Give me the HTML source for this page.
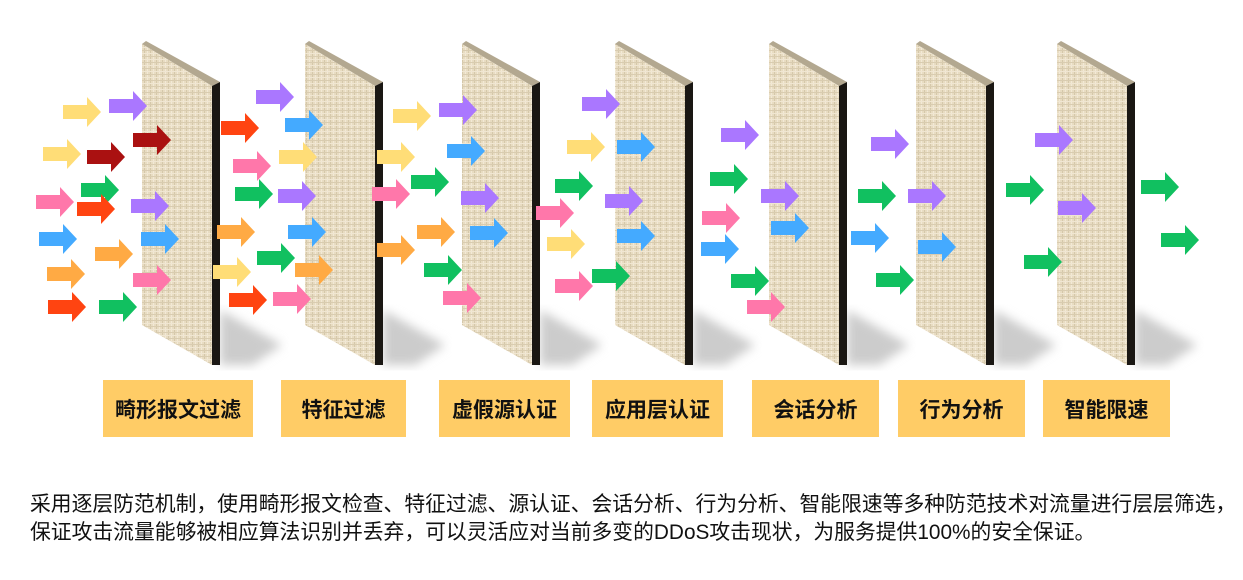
<!DOCTYPE html>
<html><head><meta charset="utf-8"><style>
html,body{margin:0;padding:0;background:#fff;}
body{width:1243px;height:580px;position:relative;overflow:hidden;font-family:"Liberation Sans","Noto Sans CJK SC",sans-serif;}
svg{position:absolute;left:0;top:0;}
.b{position:absolute;top:380px;height:57px;background:#ffcc66;font-weight:bold;font-size:21px;color:#111;display:flex;align-items:center;justify-content:center;}
.t{position:absolute;left:30px;font-size:20.8px;color:#111;white-space:nowrap;}
</style></head><body>
<svg width="1243" height="380" viewBox="0 0 1243 380">
<defs>
<pattern id="tx" width="6" height="6" patternUnits="userSpaceOnUse">
<rect width="6" height="6" fill="#e8dcc2"/>
<rect x="0" y="0" width="1" height="6" fill="#d5c8aa"/>
<rect x="3" y="0" width="1" height="6" fill="#f2e9d6"/>
<rect x="0" y="2" width="6" height="1" fill="#d9ccb0"/>
<rect x="0" y="5" width="6" height="1" fill="#f0e6d2"/>
</pattern>
<filter id="bl"><feGaussianBlur stdDeviation="5"/></filter>
<polygon id="a" points="-19,-7 5,-7 5,-15 19,0 5,15 5,7 -19,7"/>
</defs>
<g id="walls"></g>
<g id="arrows"></g>
</svg>
<script>
var W=[142,305,462,615,769,916,1057],s='';
W.forEach(function(X){
s+='<polygon points="'+(X+78)+',310 '+(X+140)+',345 '+(X+110)+',365 '+(X+78)+',365" fill="#ccc" filter="url(#bl)"/>';
s+='<polygon points="'+X+',44 '+(X+4)+',41 '+(X+78)+',82 '+(X+70)+',86" fill="#b3a890"/>';
s+='<polygon points="'+X+',44 '+(X+70)+',86 '+(X+70)+',365 '+X+',325" fill="url(#tx)"/>';
s+='<polygon points="'+(X+70)+',86 '+(X+78)+',82 '+(X+78)+',365 '+(X+70)+',365" fill="#1a1713"/>';
});
document.getElementById('walls').innerHTML=s;
var Y='#ffdd77',P='#aa77ff',D='#aa1111',G='#11c060',K='#ff77aa',R='#ff4411',B='#44aaff',O='#ffaa44';
var A=[[82,112,Y],[128,106,P],[152,140,D],[62,154,Y],[106,157,D],[100,190,G],[55,202,K],[96,209,R],[150,206,P],[58,239,B],[114,254,O],[160,239,B],[66,274,O],[67,307,R],[118,307,G],[152,280,K],
[275,97,P],[240,128,R],[304,125,B],[252,166,K],[298,157,Y],[254,194,G],[297,196,P],[236,232,O],[307,232,B],[232,272,Y],[276,258,G],[314,270,O],[248,300,R],[292,299,K],
[412,116,Y],[458,110,P],[396,157,Y],[466,151,B],[430,182,G],[391,194,K],[480,198,P],[436,232,O],[489,233,B],[396,250,O],[443,270,G],[462,298,K],
[601,104,P],[586,147,Y],[636,147,B],[574,186,G],[555,213,K],[624,201,P],[566,244,Y],[636,236,B],[574,286,K],[611,276,G],
[740,135,P],[729,179,G],[721,218,K],[780,196,P],[790,228,B],[720,249,B],[750,281,G],[766,307,K],
[890,144,P],[877,196,G],[927,196,P],[870,238,B],[937,247,B],[895,280,G],
[1054,140,P],[1025,190,G],[1077,208,P],[1043,262,G],[1160,187,G],[1180,240,G]];
var h='';A.forEach(function(a){h+='<use href="#a" x="'+a[0]+'" y="'+a[1]+'" fill="'+a[2]+'"/>';});
document.getElementById('arrows').innerHTML=h;
</script>
<div class="b" style="left:103px;width:150px">畸形报文过滤</div>
<div class="b" style="left:281px;width:125px">特征过滤</div>
<div class="b" style="left:439px;width:131px">虚假源认证</div>
<div class="b" style="left:592px;width:131px">应用层认证</div>
<div class="b" style="left:752px;width:127px">会话分析</div>
<div class="b" style="left:898px;width:127px">行为分析</div>
<div class="b" style="left:1043px;width:127px">智能限速</div>
<div class="t" style="top:487px">采用逐层防范机制，使用畸形报文检查、特征过滤、源认证、会话分析、行为分析、智能限速等多种防范技术对流量进行层层筛选，</div>
<div class="t" style="top:515px">保证攻击流量能够被相应算法识别并丢弃，可以灵活应对当前多变的DDoS攻击现状，为服务提供100%的安全保证。</div>
</body></html>
